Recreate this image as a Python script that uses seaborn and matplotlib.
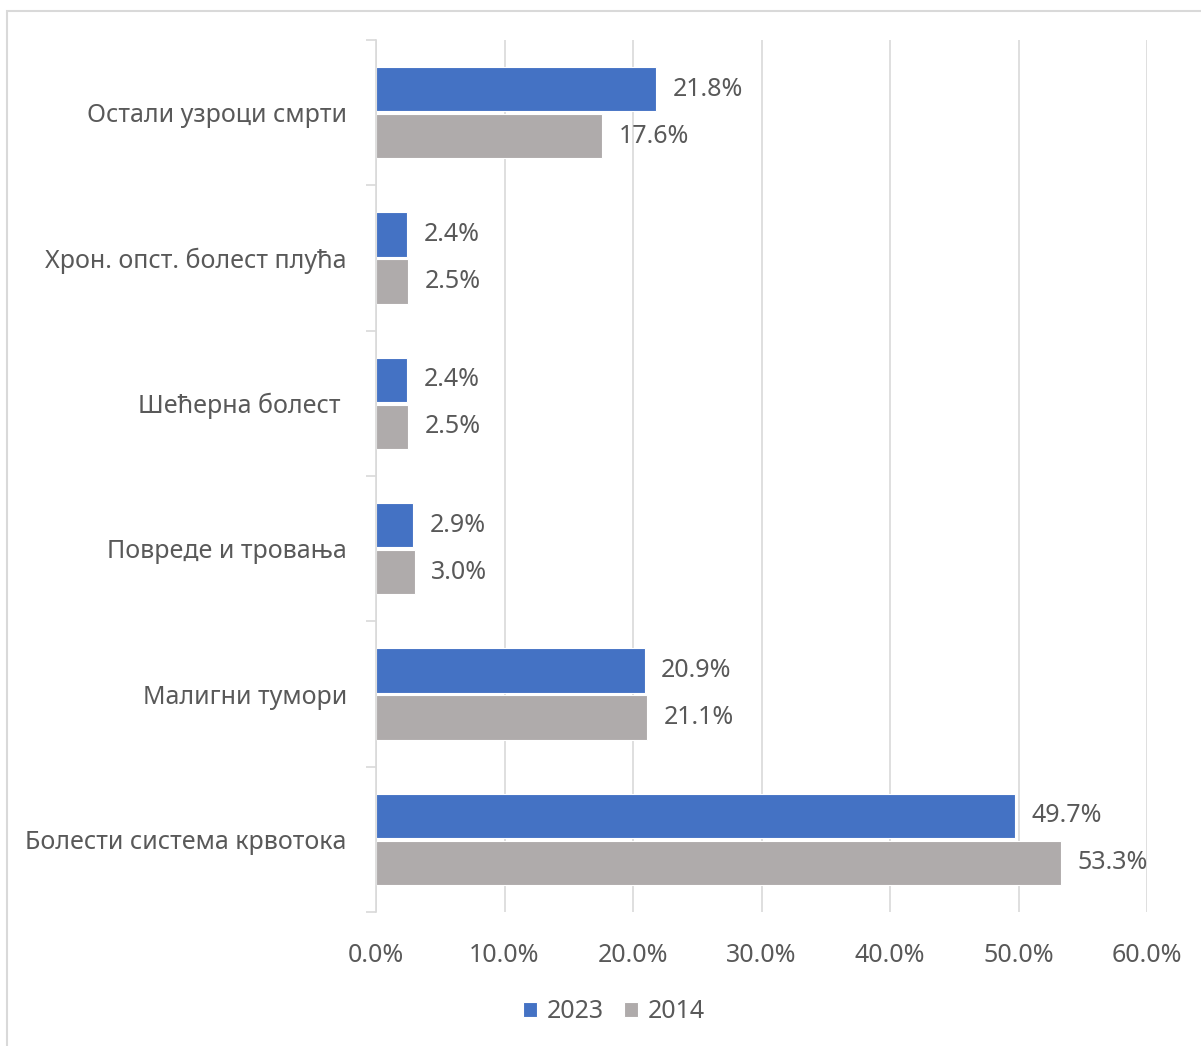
import matplotlib
matplotlib.use("Agg")
import matplotlib.pyplot as plt
from matplotlib.patches import Rectangle
import pandas as pd
import seaborn as sns

categories = [
    "Остали узроци смрти",
    "Хрон. опст. болест плућа",
    "Шећерна болест ",
    "Повреде и тровања",
    "Малигни тумори",
    "Болести система крвотока",
]
years = ["2023", "2014"]
values_2023 = [21.8, 2.4, 2.4, 2.9, 20.9, 49.7]
values_2014 = [17.6, 2.5, 2.5, 3.0, 21.1, 53.3]
x_ticks = [0, 10, 20, 30, 40, 50, 60]

df = pd.DataFrame({
    "cause": categories * 2,
    "year": [years[0]] * len(categories) + [years[1]] * len(categories),
    "share": values_2023 + values_2014,
})

sns.set_theme(style="white")
plt.rcParams["font.family"] = ["Noto Sans", "DejaVu Sans"]

text_color = "#595959"
grid_color = "#d9d9d9"
fs = 18

fig = plt.figure(figsize=(12.01, 10.46), dpi=100)
ax = fig.add_axes([376 / 1201, 1 - 912 / 1046, (1147 - 376) / 1201, (912 - 40) / 1046])

sns.barplot(
    data=df, y="cause", x="share", hue="year", hue_order=years,
    order=categories, palette=["#4472c4", "#afabab"], saturation=1, orient="h",
    width=0.645, gap=0.05, edgecolor="white", linewidth=0.8, ax=ax,
)

ax.set_xlim(0, 60)
ax.set_ylim(len(categories) - 0.5, -0.5)
ax.set_xticks(x_ticks)
ax.set_xticklabels([f"{t:.1f}%" for t in x_ticks])
ax.set_xlabel("")
ax.set_ylabel("")
ax.grid(axis="x", color=grid_color, linewidth=1.2)
ax.grid(axis="y", visible=False)
ax.set_axisbelow(True)

for s in ["top", "right", "bottom"]:
    ax.spines[s].set_visible(False)
ax.spines["left"].set_color(grid_color)
ax.spines["left"].set_linewidth(1.2)

# category boundaries as minor ticks on the value axis
ax.set_yticks([i - 0.5 for i in range(len(categories) + 1)], minor=True)
ax.tick_params(axis="y", which="minor", length=7, width=1.2, color=grid_color, direction="out", left=True)
ax.tick_params(axis="y", which="major", length=0, pad=21, labelsize=fs, labelcolor=text_color)
ax.tick_params(axis="x", which="both", length=0, pad=22, labelsize=fs, labelcolor=text_color)

for cont in ax.containers:
    ax.bar_label(cont, labels=[f"{v:.1f}%" for v in cont.datavalues],
                 padding=12, fontsize=fs, color=text_color)

handles, labels = ax.get_legend_handles_labels()
ax.legend(handles, labels, ncol=2, frameon=False, loc="center",
          bbox_to_anchor=(614 / 1201, 1 - 1012 / 1046), bbox_transform=fig.transFigure,
          handlelength=0.55, handleheight=0.55, handletextpad=0.4, columnspacing=0.8,
          fontsize=fs, labelcolor=text_color)

fig.patches.append(Rectangle((7 / 1201, -0.05), 1.2, 1 - 11 / 1046 + 0.05,
                             transform=fig.transFigure, fill=False,
                             edgecolor=grid_color, linewidth=1.5, zorder=0))

fig.savefig("out.png", dpi=100)
